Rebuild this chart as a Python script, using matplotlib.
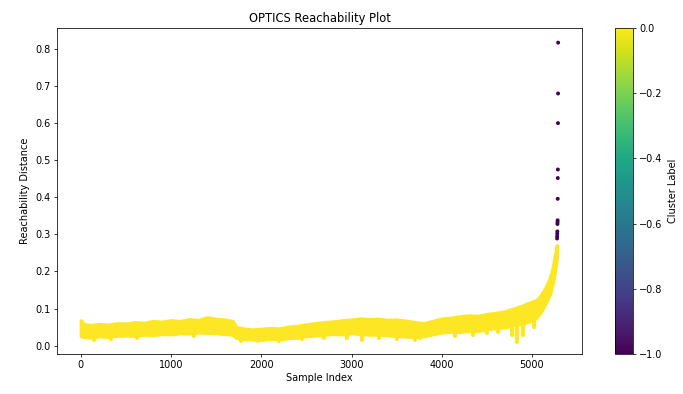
import numpy as np
import matplotlib
matplotlib.use("Agg")
import matplotlib.pyplot as plt

# band envelope of the ordered reachability distances (cluster 0)
band_index = [0, 30, 100, 200, 300, 400, 500, 600, 700, 800, 900, 1000, 1100, 1200,
              1300, 1400, 1500, 1600, 1680, 1720, 1800, 1900, 2000, 2100, 2200, 2300,
              2400, 2500, 2600, 2700, 2800, 2900, 3000, 3100, 3200, 3300, 3400, 3500,
              3600, 3700, 3800, 3900, 4000, 4100, 4200, 4300, 4400, 4500, 4600, 4700,
              4800, 4900, 4950, 5000, 5050, 5100, 5150, 5200, 5230, 5250, 5270, 5278]
band_top = [0.068, 0.058, 0.055, 0.058, 0.056, 0.060, 0.059, 0.063, 0.061, 0.066,
            0.064, 0.068, 0.066, 0.071, 0.069, 0.076, 0.072, 0.070, 0.066, 0.050,
            0.046, 0.043, 0.045, 0.047, 0.046, 0.051, 0.053, 0.057, 0.060, 0.063,
            0.065, 0.068, 0.070, 0.073, 0.071, 0.072, 0.069, 0.070, 0.067, 0.063,
            0.060, 0.066, 0.073, 0.075, 0.079, 0.081, 0.080, 0.085, 0.088, 0.092,
            0.100, 0.108, 0.114, 0.118, 0.122, 0.136, 0.156, 0.182, 0.208, 0.234,
            0.260, 0.270]
band_low = [0.026, 0.024, 0.022, 0.026, 0.024, 0.027, 0.028, 0.027, 0.030, 0.029,
            0.032, 0.031, 0.034, 0.033, 0.036, 0.035, 0.034, 0.032, 0.030, 0.022,
            0.018, 0.017, 0.016, 0.019, 0.018, 0.021, 0.022, 0.026, 0.028, 0.030,
            0.032, 0.031, 0.034, 0.032, 0.030, 0.031, 0.028, 0.027, 0.025, 0.024,
            0.026, 0.031, 0.036, 0.038, 0.037, 0.041, 0.040, 0.045, 0.048, 0.050,
            0.056, 0.060, 0.064, 0.068, 0.076, 0.092, 0.114, 0.140, 0.168, 0.196,
            0.226, 0.255]

# drips hanging below the band: index, bottom of drip
drip_index = [150, 330, 620, 1250, 1780, 1960, 2200, 2450, 2700, 2950, 3120, 3300,
              3500, 3700, 3760, 4150, 4350, 4500, 4620, 4780, 4830, 4900, 5020]
drip_value = [0.016, 0.018, 0.022, 0.026, 0.012, 0.012, 0.013, 0.018, 0.022, 0.022,
              0.016, 0.020, 0.018, 0.016, 0.020, 0.026, 0.028, 0.033, 0.036, 0.030,
              0.010, 0.030, 0.050]

# noise points (cluster -1) at the very end of the ordering
noise_index = [5279, 5280, 5281, 5282, 5283, 5284, 5285, 5286, 5287, 5288, 5289, 5290, 5291]
noise_value = [0.289, 0.295, 0.302, 0.308, 0.328, 0.333, 0.338, 0.396, 0.452, 0.475,
               0.600, 0.680, 0.817]

cmap = plt.get_cmap("viridis")
yellow = cmap(1.0)

fig = plt.figure(figsize=(6.83, 3.94), dpi=100)
ax = fig.add_axes([0.0835, 0.1015, 0.7687, 0.8274])
cax = fig.add_axes([0.9004, 0.1015, 0.0264, 0.8274])

band = ax.fill_between(band_index, band_low, band_top, color=yellow, lw=2.6,
                       edgecolor=yellow)
band.set_joinstyle("round")
drip_top = np.interp(drip_index, band_index, band_low)
ax.vlines(drip_index, drip_value, drip_top, color=yellow, lw=3, capstyle="round")
sc = ax.scatter(noise_index, noise_value, c=[-1] * len(noise_index), cmap="viridis",
                vmin=-1, vmax=0, s=8, linewidths=0)

ax.set_xlim(-265, 5556)
ax.set_ylim(-0.0225, 0.8565)
ax.set_xticks([0, 1000, 2000, 3000, 4000, 5000])
ax.set_yticks(np.arange(0, 0.81, 0.1))
ax.set_title("OPTICS Reachability Plot", fontsize=8.3, pad=4)
ax.set_xlabel("Sample Index", fontsize=7, labelpad=2)
ax.set_ylabel("Reachability Distance", fontsize=7, labelpad=4)
ax.tick_params(labelsize=7, length=2.4, width=0.55, pad=2)
for s in ax.spines.values():
    s.set_linewidth(0.55)

cb = fig.colorbar(sc, cax=cax)
cb.set_label("Cluster Label", fontsize=7, labelpad=4)
cb.ax.tick_params(labelsize=7, length=2.4, width=0.55, pad=2)
cb.outline.set_linewidth(0.55)
cb.set_ticks([0.0, -0.2, -0.4, -0.6, -0.8, -1.0])

fig.savefig("out.png", dpi=100)
